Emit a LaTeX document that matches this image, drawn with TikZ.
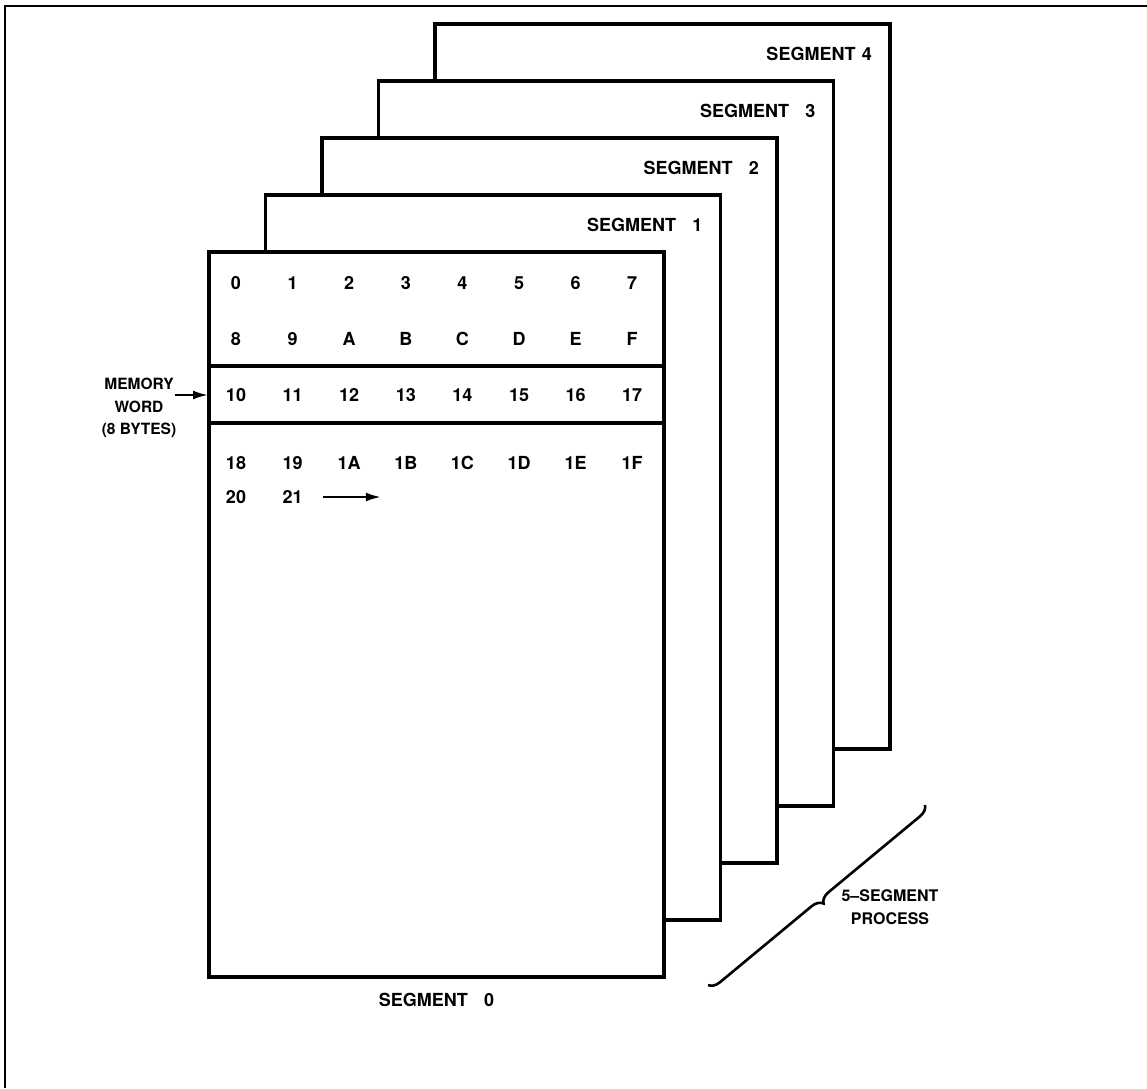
\documentclass[tikz,border=0pt]{standalone}
\usepackage{fontspec}
\setmainfont{TeX Gyre Heros}
\usetikzlibrary{arrows.meta,calc,decorations.pathreplacing}

\begin{document}
\begin{tikzpicture}[x=1pt, y=-1pt,
    font=\fontsize{18}{21}\selectfont\bfseries,
    segbox/.style={draw, line width=3.6pt, fill=white, minimum width=455pt,
      minimum height=725pt, inner sep=0pt, outer sep=0pt},
    seglabel/.style={font=\fontsize{18}{21}\selectfont\bfseries, anchor=east, inner sep=0pt},
    cell/.style={inner sep=0pt},
    rule/.style={line width=3.6pt},
    pointer/.style={-{Latex[length=15pt,width=9pt]}, line width=2.2pt},
    frameline/.style={line width=1.6pt},
    sidetext/.style={align=center, inner sep=0pt,
      font=\fontsize{15.5}{22.5}\selectfont\bfseries},
    bracket/.style={line width=2.6pt, decorate, decoration={brace, amplitude=11pt}}
  ]
  \useasboundingbox (0,0) rectangle (1147,1088);
  \draw[frameline] (5,1088) -- (5,6) -- (1147,6);

  % segments, back to front
  \foreach \k/\gap in {4/0.35em, 3/0.9em, 2/0.9em, 1/0.9em} {
    \node[segbox] (seg\k) at ({436.5+56.5*\k},{614.5-57*\k}) {};
    \node[seglabel] (lab\k) at ($(seg\k.north east)+(-18,30)$) {SEGMENT\hspace{\gap}\k};
  }
  \node[segbox] (seg0) at (436.5,614.5) {};
  \node[seglabel, anchor=north] (lab0) at ($(seg0.south)+(0,16)$) {SEGMENT\hspace{0.9em}0};

  % byte addresses
  \foreach \t [count=\i from 0] in {0,1,2,3,4,5,6,7}
    \node[cell] (a\i) at ({236+56.6*\i},283) {\t};
  \foreach \t [count=\i from 0] in {8,9,A,B,C,D,E,F}
    \node[cell] (b\i) at ({236+56.6*\i},339) {\t};
  \foreach \t [count=\i from 0] in {10,11,12,13,14,15,16,17}
    \node[cell] (c\i) at ({236+56.6*\i},395) {\t};
  \foreach \t [count=\i from 0] in {18,19,1A,1B,1C,1D,1E,1F}
    \node[cell] (d\i) at ({236+56.6*\i},463) {\t};
  \foreach \t [count=\i from 0] in {20,21}
    \node[cell] (e\i) at ({236+56.6*\i},497) {\t};

  \coordinate (bandtop) at (0,366);
  \coordinate (bandbot) at (0,423);
  \draw[rule] (seg0.west |- bandtop) -- (seg0.east |- bandtop);
  \draw[rule] (seg0.west |- bandbot) -- (seg0.east |- bandbot);

  \coordinate (runon) at ($(e1.east)+(20,0)$);
  \draw[pointer] (runon) -- ++(58,0);

  \node[sidetext] (memword) at (139,408) {MEMORY\\WORD\\(8 BYTES)};
  \coordinate (memtail) at (175,395);
  \draw[pointer, shorten >=1pt] (memtail) -- (seg0.west |- c0);

  \coordinate (brtop) at (925,805);
  \coordinate (brbot) at (708,985);
  \draw[bracket] (brtop) -- (brbot);
  \node[sidetext, font=\fontsize{16}{23}\selectfont\bfseries] (process) at (890,907) {5–SEGMENT\\PROCESS};
\end{tikzpicture}
\end{document}
